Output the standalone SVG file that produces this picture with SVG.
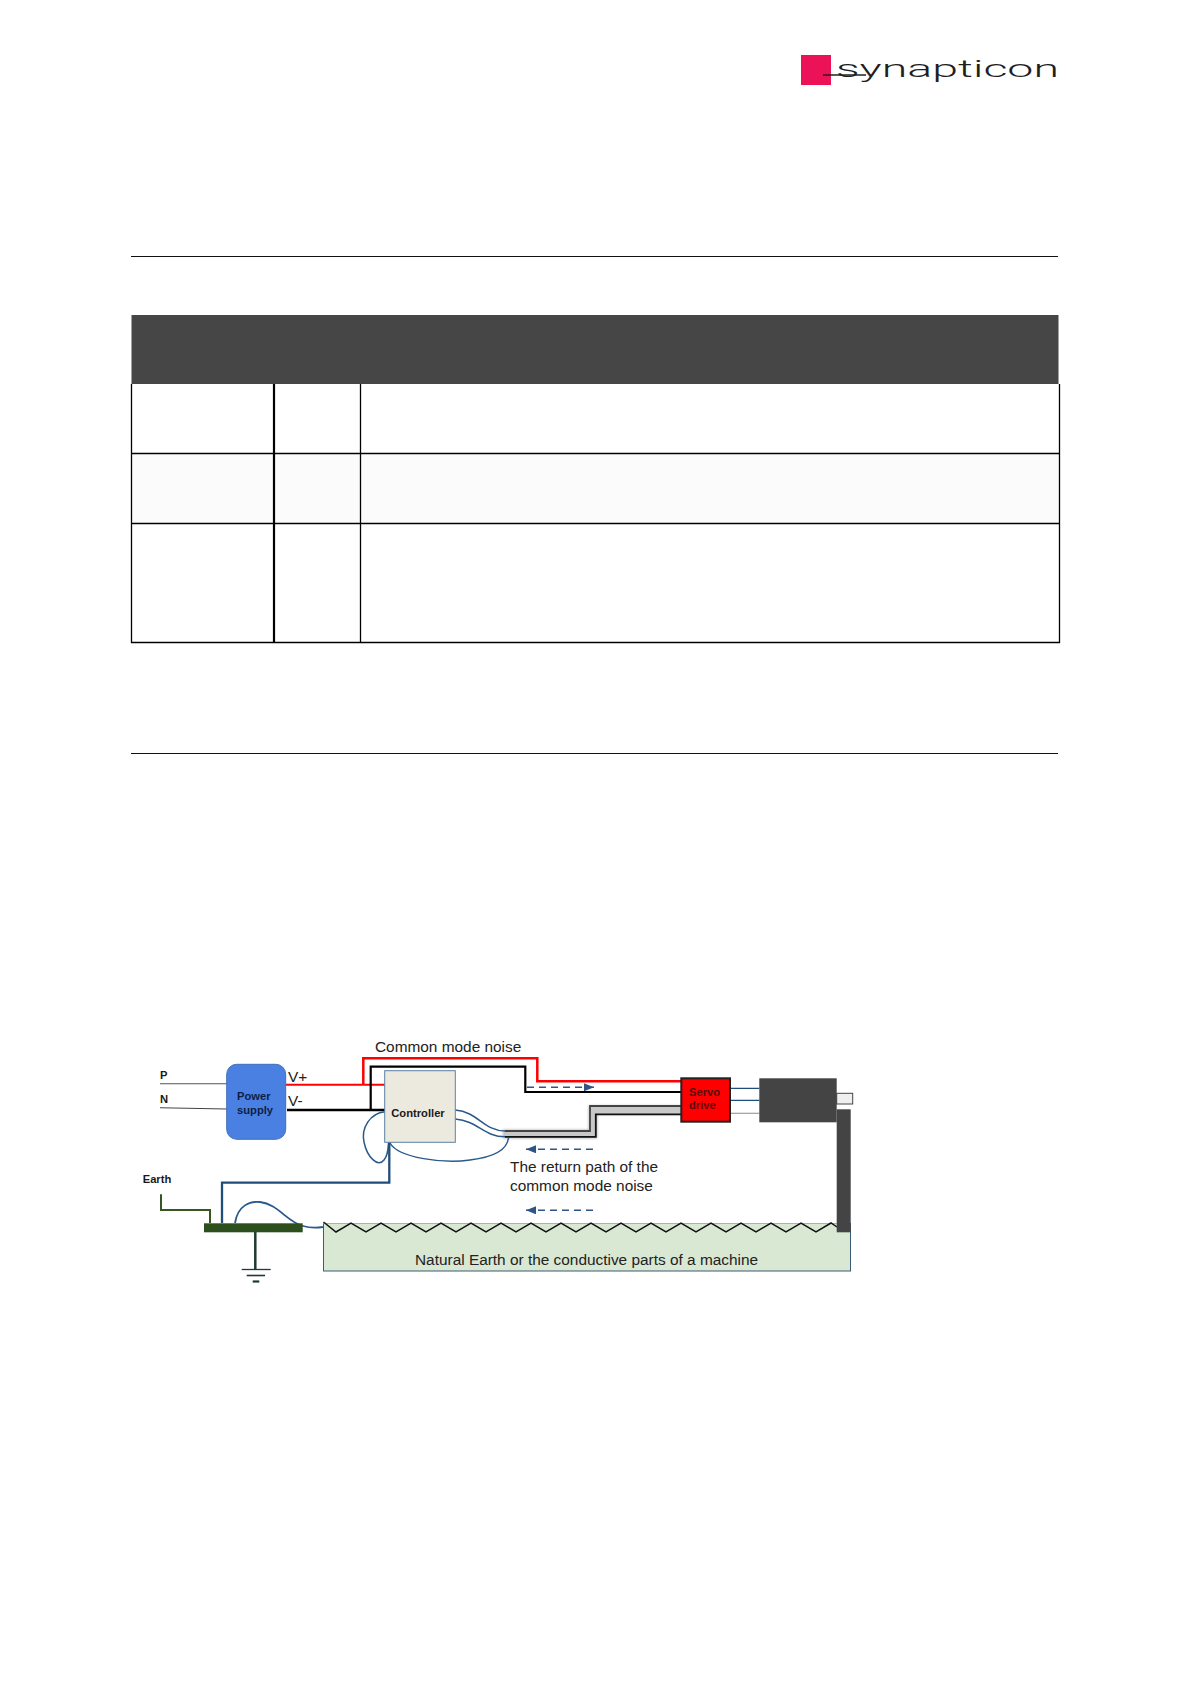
<svg xmlns="http://www.w3.org/2000/svg" width="1190" height="1684" viewBox="0 0 1190 1684">
<defs>
<style>
text{font-family:"Liberation Sans",Arial,sans-serif;fill:#222}
.b{font-weight:bold;font-size:11.200px;fill:#1a1a1a}
.t{font-size:15.400px}
.rule{stroke:#111;stroke-width:1;fill:none}
.grid{stroke:#000;stroke-width:1.300;fill:none}
.w{fill:none;stroke-linejoin:miter}
.blue{fill:none;stroke:#2a5a8c;stroke-width:1.500}
.dash{stroke:#2f5587;stroke-width:1.600;stroke-dasharray:7 5;fill:none}
</style>
<marker id="ah" markerUnits="userSpaceOnUse" markerWidth="11" markerHeight="8" refX="10" refY="4" orient="auto-start-reverse"><path d="M0 0L10 4L0 8z" fill="#2f5587"/></marker>
<filter id="soft" x="-5%" y="-30%" width="110%" height="160%"><feGaussianBlur stdDeviation="1.200"/></filter>
</defs>
<rect width="1190" height="1684" fill="#fff"/>

<g id="logo">
<rect x="801" y="55" width="30" height="30" fill="#ec1257"/>
<path d="M823 75H866" stroke="#222" stroke-width="1.300" fill="none"/>
<text x="836" y="76.500" font-size="23" textLength="223" lengthAdjust="spacingAndGlyphs" style="font-family:Roboto,'Liberation Sans',sans-serif;fill:#1f1f1f;font-weight:300">synapticon</text>
</g>

<g id="page-rules">
<path class="rule" d="M131 256.500H1058M131 753.500H1058"/>
</g>

<g id="table">
<rect x="131.500" y="315" width="927" height="69" fill="#464646"/>
<rect x="132" y="454" width="927" height="69" fill="#fbfbfb"/>
<path class="grid" d="M131.500 384V642.500H1059.500V384M131.500 453.500H1059.500M131.500 523.500H1059.500M360.500 384V642.500"/>
<path d="M274 384V642.500" stroke="#000" stroke-width="2.200" fill="none"/>
</g>

<g id="ground-plane">
<rect x="323.500" y="1223.500" width="527" height="47.500" fill="#d9e8d3" stroke="#3c5a7a" stroke-width="1"/>
<path d="M323.500 1223.500H850" stroke="#a9b5a5" stroke-width="1" fill="none"/>
<text class="t" x="415" y="1264.500">Natural Earth or the conductive parts of a machine</text>
</g>

<g id="connectors">
<path class="w" stroke="#111" stroke-width="1.500" d="M323.500 1222L336 1232L351 1223L366 1232L381 1223L396 1232L411 1223L426 1232L441 1223L456 1232L471 1223L486 1232L501 1223L516 1232L531 1223L546 1232L561 1223L576 1232L591 1223L606 1232L621 1223L636 1232L651 1223L666 1232L681 1223L696 1232L711 1223L726 1232L741 1223L756 1232L771 1223L786 1232L801 1223L816 1232L831 1223L837 1227"/>
<path d="M160 1083.700H227" stroke="#555" stroke-width="1.100" fill="none"/>
<path d="M160 1107.700L227 1109" stroke="#444" stroke-width="1.100" fill="none"/>
<path class="w" stroke="#f00" stroke-width="2" d="M286 1084.700H387"/>
<path class="w" stroke="#f00" stroke-width="2.500" d="M363.300 1084.700V1058.300H537.300V1081.300H682"/>
<path class="w" stroke="#000" stroke-width="2.500" d="M287 1110H385"/>
<path class="w" stroke="#000" stroke-width="2.200" d="M370.700 1110V1066.700H525.300V1092H682"/>
<path d="M503 1134H593V1110H682" fill="none" stroke="#bdbdbd" stroke-width="9" filter="url(#soft)"/>
<path d="M505 1134H593V1110H682" fill="none" stroke="#c8c8c8" stroke-width="6"/>
<path class="w" stroke="#444" stroke-width="1.800" d="M505 1131H590V1106H682"/>
<path class="w" stroke="#111" stroke-width="1.800" d="M505 1136.800H595.800V1114.400H682"/>
<path class="blue" d="M455.300 1110C478 1112 484 1131 505 1131"/>
<path class="blue" d="M455.300 1119C478 1121 484 1136.800 505 1136.800"/>
<path class="blue" d="M385 1111.700C370 1113 361 1128 364 1142C367 1157 378 1168 384 1160C388 1155 388 1150 388.500 1143"/>
<path class="blue" d="M390 1143C398 1158 445 1164 470 1160C495 1157 507 1150 508.500 1138"/>
<path class="w" stroke="#1f4e79" stroke-width="2.300" d="M389.300 1142V1182.700H222V1223"/>
<path class="w" stroke="#375623" stroke-width="2" d="M161 1194.300V1210H210V1223"/>
<path class="w" stroke="#2a5a8c" stroke-width="1.800" d="M235 1223C238 1205 250 1201 260 1202C278 1204 287 1222 303 1226C310 1228 316 1228 323 1227"/>
<path class="w" stroke="#1d3a35" stroke-width="2.500" d="M255.300 1232V1269.300"/>
<path class="w" stroke="#1d3a35" stroke-width="1.300" d="M241.700 1269.500H270.700"/>
<path class="w" stroke="#1d3a35" stroke-width="1.600" d="M246.700 1275.500H265"/>
<path class="w" stroke="#1d3a35" stroke-width="2.200" d="M252.700 1281.500H259.300"/>
<path class="w" stroke="#1f4e79" stroke-width="1.200" d="M730 1088.300H759.300M730 1100.300H759.300"/>
<path class="w" stroke="#9a9fa5" stroke-width="1.200" d="M730 1113.300H759.300"/>
<path class="dash" d="M527 1087.300H594" marker-end="url(#ah)"/>
<path class="dash" d="M593 1149.300H526" marker-end="url(#ah)"/>
<path class="dash" d="M593 1210.300H526" marker-end="url(#ah)"/>
</g>

<g id="power-supply">
<rect x="226.700" y="1064.300" width="59" height="75" rx="10" fill="#4a80e2" stroke="#3f6fb8" stroke-width="1"/>
<text class="b" x="237" y="1100" style="fill:#0d1f47">Power</text>
<text class="b" x="237" y="1114" style="fill:#0d1f47">supply</text>
</g>
<g id="controller">
<rect x="384.700" y="1070.700" width="70.600" height="71.600" fill="#ece9df" stroke="#5b82a8" stroke-width="1"/>
<text class="b" x="418" y="1117" text-anchor="middle">Controller</text>
</g>
<g id="servo-drive">
<rect x="681.300" y="1078.300" width="48.700" height="43.400" fill="#fe0000" stroke="#222" stroke-width="2"/>
<text class="b" x="689" y="1096" style="fill:#5c0a0a">Servo</text>
<text class="b" x="689" y="1109" style="fill:#5c0a0a">drive</text>
</g>
<g id="motor">
<rect x="836.700" y="1093.300" width="16" height="10.700" fill="#efefef" stroke="#444" stroke-width="1"/>
<rect x="759.300" y="1078.300" width="77.400" height="44" fill="#444"/>
<rect x="836.700" y="1109.300" width="14" height="123" fill="#444"/>
</g>
<g id="earth-plate">
<rect x="204" y="1223.300" width="98.700" height="9" fill="#2d4f1e"/>
</g>
<g id="labels">
<text class="b" x="160" y="1079">P</text>
<text class="b" x="160" y="1103">N</text>
<text class="b" x="142.700" y="1182.500">Earth</text>
<text class="t" x="288" y="1082">V+</text>
<text class="t" x="288" y="1106">V-</text>
<text class="t" x="375" y="1052.300">Common mode noise</text>
<text class="t" x="510" y="1172.300">The return path of the</text>
<text class="t" x="510" y="1190.700">common mode noise</text>
</g>
</svg>
